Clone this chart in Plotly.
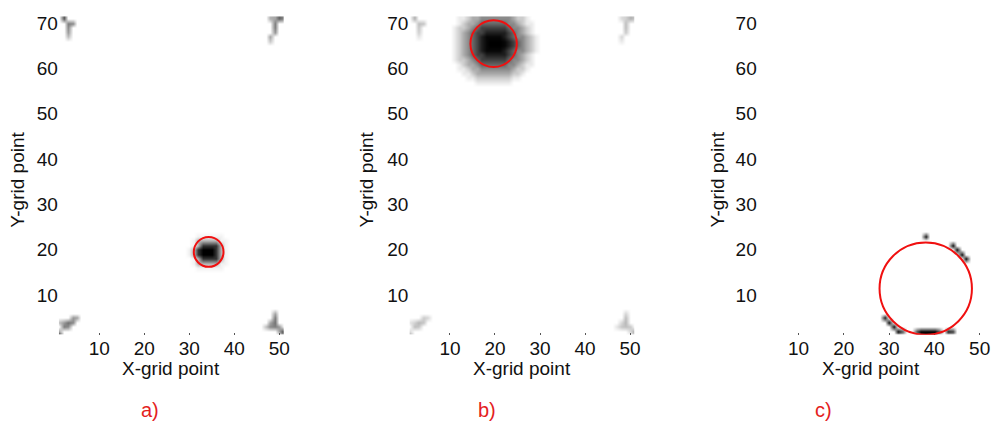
import math
import numpy as np
import plotly.graph_objects as go

# ---------------- data ----------------
x_cells = list(range(1, 52))          # X-grid points
y_cells = list(range(1, 72))          # Y-grid points
x_tick_vals = [1, 10, 20, 30, 40, 50]
x_tick_text = ["", "10", "20", "30", "40", "50"]
y_tick_vals = [10, 20, 30, 40, 50, 60, 70]
y_tick_text = ["10", "20", "30", "40", "50", "60", "70"]

# radial intensity profiles of the dark spots (value at distance 0,1,2,...)
blob_a_center = [34.3, 19.5]
blob_a_profile = [1.0, 1.0, 0.8, 0.3, 0.05]
blob_b_center = [19.7, 65.5]
blob_b_profile = [1.0, 1.0, 0.97, 0.88, 0.74, 0.6, 0.46, 0.33, 0.2, 0.08]

# corner artefacts (same cells in a and b, lighter in b)
corner_x = [2, 3, 4, 3, 3, 3,
            50, 51, 48, 49, 49, 49, 49, 48, 48,
            1, 1, 2, 3, 3, 4, 4, 5, 2, 1,
            49, 49, 49, 48, 49, 48, 50, 47, 51, 50, 51]
corner_y = [71, 70, 70, 69, 68, 67,
            71, 71, 71, 71, 70, 69, 68, 67, 66,
            1, 2, 3, 3, 4, 4, 5, 5, 4, 4,
            6, 5, 4, 4, 3, 3, 3, 3, 2, 2, 1]
corner_a_v = [0.65, 0.5, 0.45, 0.45, 0.38, 0.25,
              0.6, 0.45, 0.3, 0.35, 0.5, 0.5, 0.4, 0.35, 0.2,
              0.9, 0.35, 0.5, 0.45, 0.55, 0.45, 0.4, 0.35, 0.4, 0.25,
              0.35, 0.5, 0.55, 0.35, 0.5, 0.45, 0.4, 0.25, 0.8, 0.35, 0.45]
corner_b_v = [0.3, 0.25, 0.22, 0.22, 0.18, 0.1,
              0.3, 0.22, 0.14, 0.18, 0.25, 0.25, 0.2, 0.16, 0.08,
              0.4, 0.15, 0.25, 0.22, 0.28, 0.22, 0.2, 0.16, 0.18, 0.1,
              0.16, 0.25, 0.28, 0.16, 0.25, 0.22, 0.2, 0.1, 0.35, 0.16, 0.2]

# dark marks of panel c
marks_c_x = [38,
             44, 45, 46, 47,
             29, 30, 31, 32,
             33, 36, 37, 38, 39, 40, 41, 37, 38, 39, 40,
             43, 44]
marks_c_y = [23,
             21, 20, 19, 18,
             5, 4, 3, 2,
             2, 2, 2, 2, 2, 2, 2, 1, 1, 1, 1,
             2, 2]
marks_c_v = [0.9,
             0.95, 0.95, 0.95, 0.95,
             0.9, 0.95, 0.95, 0.95,
             0.6, 0.7, 1.0, 1.0, 1.0, 1.0, 0.7, 0.8, 0.9, 0.9, 0.8,
             0.85, 0.75]

# red circles: centre x, centre y, radius
circle_cx = [34.3, 19.7, 38.1]
circle_cy = [19.5, 65.5, 11.4]
circle_r = [3.3, 5.15, 10.2]

panel_labels = ["a)", "b)", "c)"]


# ---------------- build fields ----------------
def build_field(center, profile, cx_list, cy_list, v_list):
    z = np.zeros((len(y_cells), len(x_cells)))
    if center is not None:
        for j, yy in enumerate(y_cells):
            for i, xx in enumerate(x_cells):
                k = int(round(math.hypot(xx - center[0], yy - center[1])))
                if k < len(profile):
                    z[j, i] = profile[k]
    for xx, yy, vv in zip(cx_list, cy_list, v_list):
        z[yy - 1, xx - 1] = max(z[yy - 1, xx - 1], vv)
    return z


fields = [
    build_field(blob_a_center, blob_a_profile, corner_x, corner_y, corner_a_v),
    build_field(blob_b_center, blob_b_profile, corner_x, corner_y, corner_b_v),
    build_field(None, None, marks_c_x, marks_c_y, marks_c_v),
]

# ---------------- layout geometry (pixels) ----------------
W, H = 1000, 430
x_pix = [(59.2, 285.5), (411.9, 638.4), (762.3, 990.1)]
y_pix = (13.1, 334.1)
ylab_x = [18, 369, 722]
cap_x = [151, 490, 828]

FONT = "Liberation Sans, Arial, sans-serif"
fig = go.Figure()
for k in range(3):
    sfx = "" if k == 0 else str(k + 1)
    fig.add_trace(go.Heatmap(
        x=x_cells, y=y_cells, z=fields[k],
        colorscale=[[0, "#ffffff"], [1, "#000000"]], zmin=0, zmax=1,
        zsmooth="best", showscale=False, hoverinfo="skip",
        xaxis="x" + sfx, yaxis="y" + sfx))
    fig.layout["xaxis" + sfx] = dict(
        domain=[x_pix[k][0] / W, x_pix[k][1] / W], range=[1, 51],
        anchor="y" + sfx, tickvals=x_tick_vals, ticktext=x_tick_text,
        ticks="inside", ticklen=2, tickwidth=1, tickcolor="#555",
        showline=False, showgrid=False, zeroline=False,
        tickfont=dict(family=FONT, size=19, color="#111"))
    fig.layout["yaxis" + sfx] = dict(
        domain=[1 - y_pix[1] / H, 1 - y_pix[0] / H], range=[1.2, 71.6],
        anchor="x" + sfx, tickvals=y_tick_vals, ticktext=y_tick_text,
        ticks="", showline=False, showgrid=False, zeroline=False,
        tickfont=dict(family=FONT, size=19, color="#111"))
    fig.add_shape(type="circle", xref="x" + sfx, yref="y" + sfx,
                  x0=circle_cx[k] - circle_r[k], x1=circle_cx[k] + circle_r[k],
                  y0=circle_cy[k] - circle_r[k], y1=circle_cy[k] + circle_r[k],
                  line=dict(color="#f01010", width=2))
    fig.add_annotation(text="X-grid point", xref="paper", yref="paper",
                       x=(x_pix[k][0] + x_pix[k][1]) / 2 / W, y=1 - 368 / H,
                       showarrow=False, xanchor="center", yanchor="middle",
                       font=dict(family=FONT, size=19, color="#111"))
    fig.add_annotation(text="Y-grid point", xref="paper", yref="paper",
                       x=ylab_x[k] / W, y=1 - 178 / H, textangle=-90,
                       showarrow=False, xanchor="center", yanchor="middle",
                       font=dict(family=FONT, size=19, color="#111"))
    fig.add_annotation(text=panel_labels[k], xref="paper", yref="paper",
                       x=cap_x[k] / W, y=1 - 410 / H,
                       showarrow=False, xanchor="center", yanchor="middle",
                       font=dict(family=FONT, size=20, color="#e41e1e"))

fig.update_layout(width=W, height=H, margin=dict(l=0, r=0, t=0, b=0),
                  paper_bgcolor="white", plot_bgcolor="white",
                  showlegend=False)
fig.write_html("out.html")
